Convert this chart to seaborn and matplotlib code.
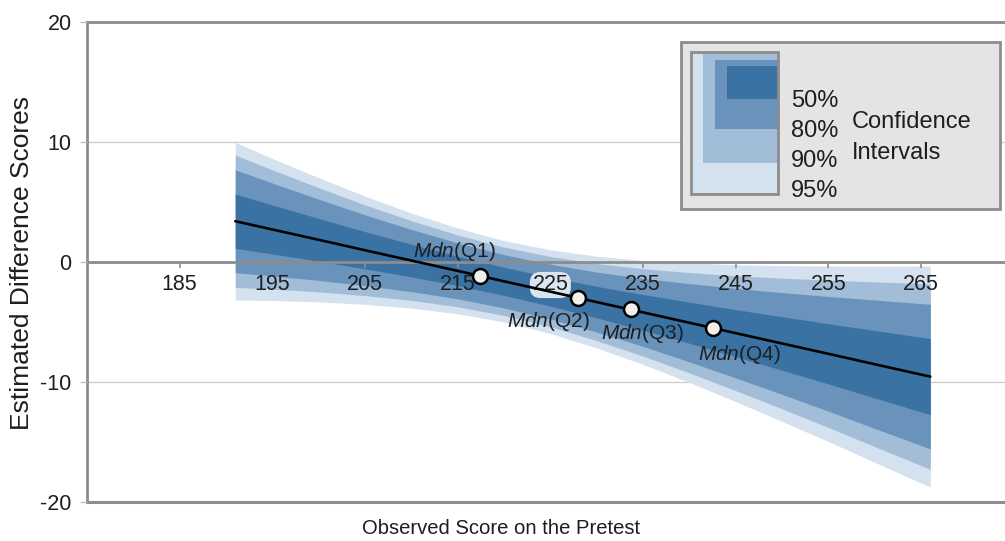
import matplotlib
matplotlib.use("Agg")
import matplotlib.pyplot as plt
from matplotlib.patches import Rectangle
import seaborn as sns

# Pretest scores at which the fitted difference and its intervals are tabulated
score = [191, 195, 200, 205, 210, 215, 220, 225, 230, 235, 240, 245, 250, 255, 260, 265, 266]
fit = [3.40, 2.71, 1.85, 0.98, 0.12, -0.74, -1.61, -2.47, -3.34, -4.20, -5.06, -5.93,
       -6.79, -7.65, -8.52, -9.38, -9.55]

# Interval bounds for each confidence level
hi95 = [9.97, 8.63, 7.02, 5.49, 4.08, 2.83, 1.78, 1.02, 0.48, 0.13, -0.08, -0.23,
        -0.30, -0.34, -0.35, -0.34, -0.34]
lo95 = [-3.17, -3.21, -3.32, -3.53, -3.84, -4.31, -5.00, -5.96, -7.16, -8.53, -10.04, -11.63,
        -13.28, -14.96, -16.69, -18.42, -18.76]
hi90 = [8.91, 7.68, 6.19, 4.76, 3.44, 2.25, 1.24, 0.46, -0.13, -0.56, -0.88, -1.14,
        -1.35, -1.51, -1.66, -1.80, -1.82]
lo90 = [-2.11, -2.26, -2.49, -2.80, -3.20, -3.73, -4.46, -5.40, -6.55, -7.84, -9.24, -10.72,
        -12.23, -13.79, -15.38, -16.96, -17.28]
hi80 = [7.69, 6.58, 5.23, 3.93, 2.71, 1.59, 0.61, -0.19, -0.84, -1.37, -1.80, -2.20,
        -2.55, -2.87, -3.17, -3.47, -3.52]
lo80 = [-0.89, -1.16, -1.53, -1.97, -2.47, -3.07, -3.83, -4.75, -5.84, -7.03, -8.32, -9.66,
        -11.03, -12.43, -13.87, -15.29, -15.58]
hi50 = [5.66, 4.75, 3.63, 2.53, 1.48, 0.49, -0.44, -1.27, -2.03, -2.71, -3.35, -3.97,
        -4.56, -5.14, -5.71, -6.27, -6.38]
lo50 = [1.14, 0.67, 0.07, -0.57, -1.24, -1.97, -2.78, -3.67, -4.65, -5.69, -6.77, -7.89,
        -9.02, -10.16, -11.33, -12.49, -12.72]

# Quartile medians on the fitted line
mdn_x = [217.4, 228.0, 233.7, 242.6]
mdn_y = [-1.2, -3.0, -3.95, -5.5]
mdn_names = ["Q1", "Q2", "Q3", "Q4"]

x_ticks = [185, 195, 205, 215, 225, 235, 245, 255, 265]
y_ticks = [-20, -10, 0, 10, 20]
levels = ["50%", "80%", "90%", "95%"]

colors = {"50%": "#3a72a4", "80%": "#6a93bb", "90%": "#a2bdd7", "95%": "#d4e1ee"}
grey = "#8c8c8c"
ink = "#1e1e1e"

sns.set_theme(style="white")
plt.rcParams["font.family"] = ["Liberation Sans", "DejaVu Sans"]
plt.rcParams["mathtext.fontset"] = "custom"
plt.rcParams["mathtext.it"] = "Liberation Sans:italic"
plt.rcParams["mathtext.rm"] = "Liberation Sans"
plt.rcParams["axes.unicode_minus"] = False
plt.rcParams["text.color"] = ink

fig = plt.figure(figsize=(10.05, 5.41), dpi=100)
ax = fig.add_axes([87 / 1005, 39 / 541, 918 / 1005, 480 / 541])
ax.set_facecolor("white")

# light reference lines
for v in (-10, 10):
    ax.axhline(v, color="#cccccc", lw=0.9, zorder=0)

# nested interval bands, widest first
for lo, hi, lev in [(lo95, hi95, "95%"), (lo90, hi90, "90%"),
                    (lo80, hi80, "80%"), (lo50, hi50, "50%")]:
    ax.fill_between(score, lo, hi, color=colors[lev], lw=0, zorder=1)

sns.lineplot(x=score, y=fit, color="black", lw=1.9, ax=ax, zorder=3)
sns.scatterplot(x=mdn_x, y=mdn_y, s=115, color="#f3efeb", edgecolor="black",
                linewidth=1.8, zorder=4, ax=ax)

offsets = [(-18, 18), (-21, -17), (8, -17), (19, -19)]
for x, y, q, off in zip(mdn_x, mdn_y, mdn_names, offsets):
    ax.annotate(r"$\mathit{Mdn}$(" + q + ")", (x, y), xytext=off, textcoords="offset points",
                ha="center", va="center", fontsize=15, color=ink, zorder=5)

ax.set_xlim(175, 274.06)
ax.set_ylim(-20, 20)
ax.set_xticks(x_ticks)
ax.set_yticks(y_ticks)
ax.set_xlabel("")
ax.set_ylabel("")
ax.set_axisbelow(False)

# horizontal axis sits at zero; frame drawn in grey
ax.spines["bottom"].set_position(("data", 0))
ax.spines["right"].set_visible(False)
for side in ("bottom", "left", "top"):
    ax.spines[side].set_color(grey)
    ax.spines[side].set_linewidth(2.0)
    ax.spines[side].set_zorder(2.5)
ax.axhline(-20, color=grey, lw=2.2, zorder=2.5, clip_on=False)

ax.tick_params(axis="x", bottom=True, direction="out", length=4, width=1.2,
               color=grey, labelsize=15.5, pad=5, labelcolor=ink)
ax.tick_params(axis="y", left=True, direction="out", length=5, width=0.9,
               color="#bbbbbb", labelsize=15.5, pad=6, labelcolor=ink)
for lab in ax.get_xticklabels():
    if lab.get_text() == "225":
        lab.set_bbox(dict(boxstyle="round,pad=0.12,rounding_size=0.5",
                          fc="#dbe5ef", ec="none"))

fig.text(501 / 1005, 1 - 528 / 541, "Observed Score on the Pretest",
         ha="center", va="center", fontsize=14.6, color=ink)
fig.text(22 / 1005, 1 - 263 / 541, "Estimated Difference Scores", rotation=90,
         ha="center", va="center", fontsize=19, color=ink)

# legend panel drawn in figure pixel space
lax = fig.add_axes([0, 0, 1, 1], zorder=10)
lax.set_xlim(0, 1005)
lax.set_ylim(541, 0)
lax.axis("off")
lax.patch.set_alpha(0)
lax.add_patch(Rectangle((681, 42), 319, 167, fc="#e4e4e4", ec=grey, lw=2))
lax.add_patch(Rectangle((691, 52), 87, 142, fc=colors["95%"], ec="none"))
lax.add_patch(Rectangle((703, 52), 75, 111, fc=colors["90%"], ec="none"))
lax.add_patch(Rectangle((715, 60), 63, 69, fc=colors["80%"], ec="none"))
lax.add_patch(Rectangle((727, 66), 50, 33, fc=colors["50%"], ec="none"))
lax.add_patch(Rectangle((691, 52), 87, 142, fill=False, ec=grey, lw=2))
for lev, yy in zip(levels, [101, 131, 161, 191]):
    lax.text(791, yy, lev, ha="left", va="center", fontsize=17, color=ink)
lax.text(852, 122, "Confidence", ha="left", va="center", fontsize=17, color=ink)
lax.text(852, 153, "Intervals", ha="left", va="center", fontsize=17, color=ink)

fig.savefig("out.png", dpi=100)
